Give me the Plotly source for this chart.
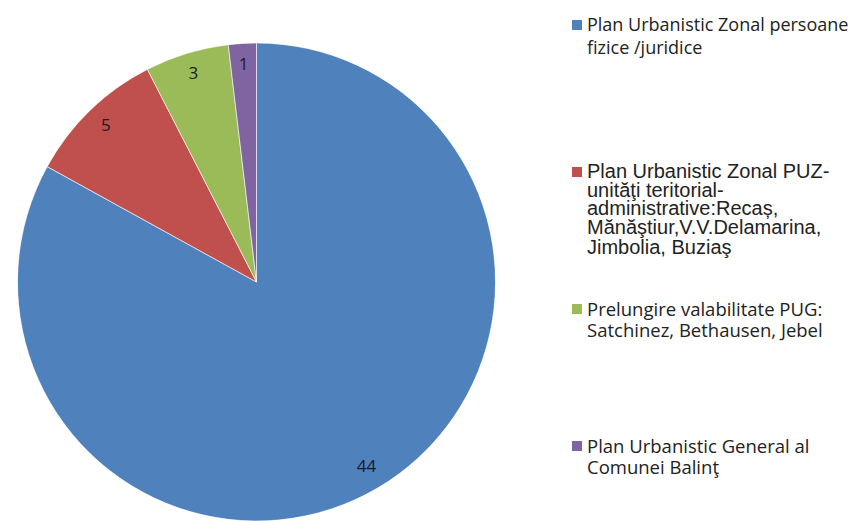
import plotly.graph_objects as go
import numpy as np

# ---- data ----
legend_lines = [
    ["Plan Urbanistic Zonal persoane", "fizice /juridice"],
    ["Plan Urbanistic Zonal PUZ-", "unităţi teritorial-", "administrative:Recaș,",
     "Mănăştiur,V.V.Delamarina,", "Jimbolia, Buziaş"],
    ["Prelungire valabilitate PUG:", "Satchinez, Bethausen, Jebel"],
    ["Plan Urbanistic General al", "Comunei Balinţ"],
]
labels = [" ".join(l) for l in legend_lines]
values = [44, 5, 3, 1]
colors = ["#4F81BD", "#C0504D", "#9BBB59", "#8064A2"]

# ---- layout helpers (page has an 8px body margin) ----
OFF = 8
W, H = 850, 513
def px(x): return (x - OFF) / W
def py(y): return 1 - (y - OFF) / H

cx, r = 256.5, 239
top = 43
dom_x = [px(cx - r), px(cx + r)]
dom_y = [max(0, py(top + 2 * r)), py(top)]

vals = np.array(values, dtype=float)
total = vals.sum()
ends = np.cumsum(vals)
mids = (ends - vals / 2) / total * 360
widths = vals / total * 360

fig = go.Figure()
fig.add_trace(go.Barpolar(
    r=[1] * len(values), theta=mids, width=widths, base=0,
    marker=dict(color=colors, line=dict(color="white", width=0.6)),
    hovertext=[f"{l}: {v}" for l, v in zip(labels, values)], hoverinfo="text",
    showlegend=False,
))
fig.add_trace(go.Scatterpolar(
    r=[0.905] * len(values), theta=mids, mode="text",
    text=[str(v) for v in values],
    textfont=dict(family="Open Sans", size=17, color="#1a1a2a"),
    showlegend=False, hoverinfo="skip",
))
fig.update_layout(polar=dict(
    domain=dict(x=dom_x, y=dom_y), bgcolor="rgba(0,0,0,0)", bargap=0, hole=0,
    radialaxis=dict(range=[0, 1], visible=False),
    angularaxis=dict(rotation=90, direction="clockwise", visible=False),
))

# custom legend
entry_fonts = ["Open Sans", "Liberation Sans", "Open Sans", "Open Sans"]
entry_sizes = [18, 20, 18.5, 18.5]
entry_baselines = [[30, 53], [177, 196, 214, 233, 253], [314, 335], [451, 472]]
shapes, annotations = [], []
for i, lines in enumerate(legend_lines):
    bl = entry_baselines[i]
    shapes.append(dict(type="rect", xref="paper", yref="paper",
                       x0=px(572), x1=px(582), y0=py(bl[0]), y1=py(bl[0] - 10),
                       fillcolor=colors[i], line=dict(width=0)))
    for j, line in enumerate(lines):
        s = entry_sizes[i]
        annotations.append(dict(
            text=line, xref="paper", yref="paper", x=px(584.5), y=py(bl[j] - 0.32 * s),
            xanchor="left", yanchor="middle", showarrow=False,
            font=dict(family=entry_fonts[i], size=s, color="#222222"),
        ))

fig.update_layout(
    width=W, height=H, margin=dict(l=0, r=0, t=0, b=0),
    paper_bgcolor="white", plot_bgcolor="white",
    shapes=shapes, annotations=annotations,
)
fig.write_html("out.html")
